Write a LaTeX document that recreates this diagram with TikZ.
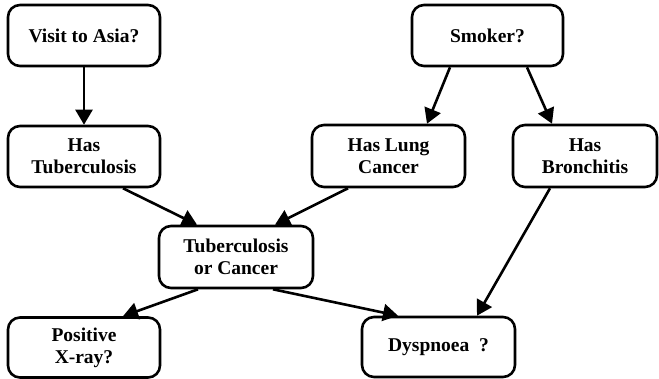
\documentclass[tikz,border=0pt]{standalone}
\usepackage{fontspec}
\setmainfont{Liberation Serif}
\usetikzlibrary{arrows.meta}
\begin{document}
\begin{tikzpicture}[x=1pt,y=1pt,
  box/.style={draw, line width=2.6pt, rounded corners=12pt, inner sep=0pt,
    align=center, font=\fontsize{19.5}{22}\selectfont\bfseries},
  arr/.style={line width=2.6pt, -{Triangle[length=15pt,width=17pt]}}]
\useasboundingbox (0,0) rectangle (659,-379);
\node[box, minimum width=152pt, minimum height=61pt] (visit) at (84,-35.5) {Visit to Asia?};
\node[box, minimum width=151pt, minimum height=61pt] (smoker) at (487.5,-35.5) {Smoker?};
\node[box, minimum width=152pt, minimum height=61pt] (tub) at (84,-156.5) {Has\\Tuberculosis};
\node[box, minimum width=153pt, minimum height=62pt] (lung) at (388.5,-156) {Has Lung\\Cancer};
\node[box, minimum width=144pt, minimum height=62pt] (bron) at (585,-156) {Has\\Bronchitis};
\node[box, minimum width=154pt, minimum height=62pt] (torc) at (236,-257) {Tuberculosis\\or Cancer};
\node[box, minimum width=152pt, minimum height=60pt] (xray) at (84,-347.5) {Positive\\X-ray?};
\node[box, minimum width=153pt, minimum height=60pt] (dysp) at (438.5,-347) {Dyspnoea\ \ ?};
\draw[arr] (visit.south) -- (tub.north);
\draw[arr] ([xshift=-37.5pt]smoker.south) -- ([xshift=38.5pt]lung.north);
\draw[arr] ([xshift=39.5pt]smoker.south) -- ([xshift=-33pt]bron.north);
\draw[arr] ([xshift=39pt]tub.south) -- ([xshift=-39pt]torc.north);
\draw[arr] ([xshift=-40.5pt]lung.south) -- ([xshift=39pt]torc.north);
\draw[arr] ([xshift=-35pt]bron.south) -- ([xshift=38.5pt]dysp.north);
\draw[arr] ([xshift=-38pt]torc.south) -- ([xshift=39pt]xray.north);
\draw[arr] ([xshift=37pt]torc.south) -- ([xshift=-40.5pt]dysp.north);
\end{tikzpicture}
\end{document}
